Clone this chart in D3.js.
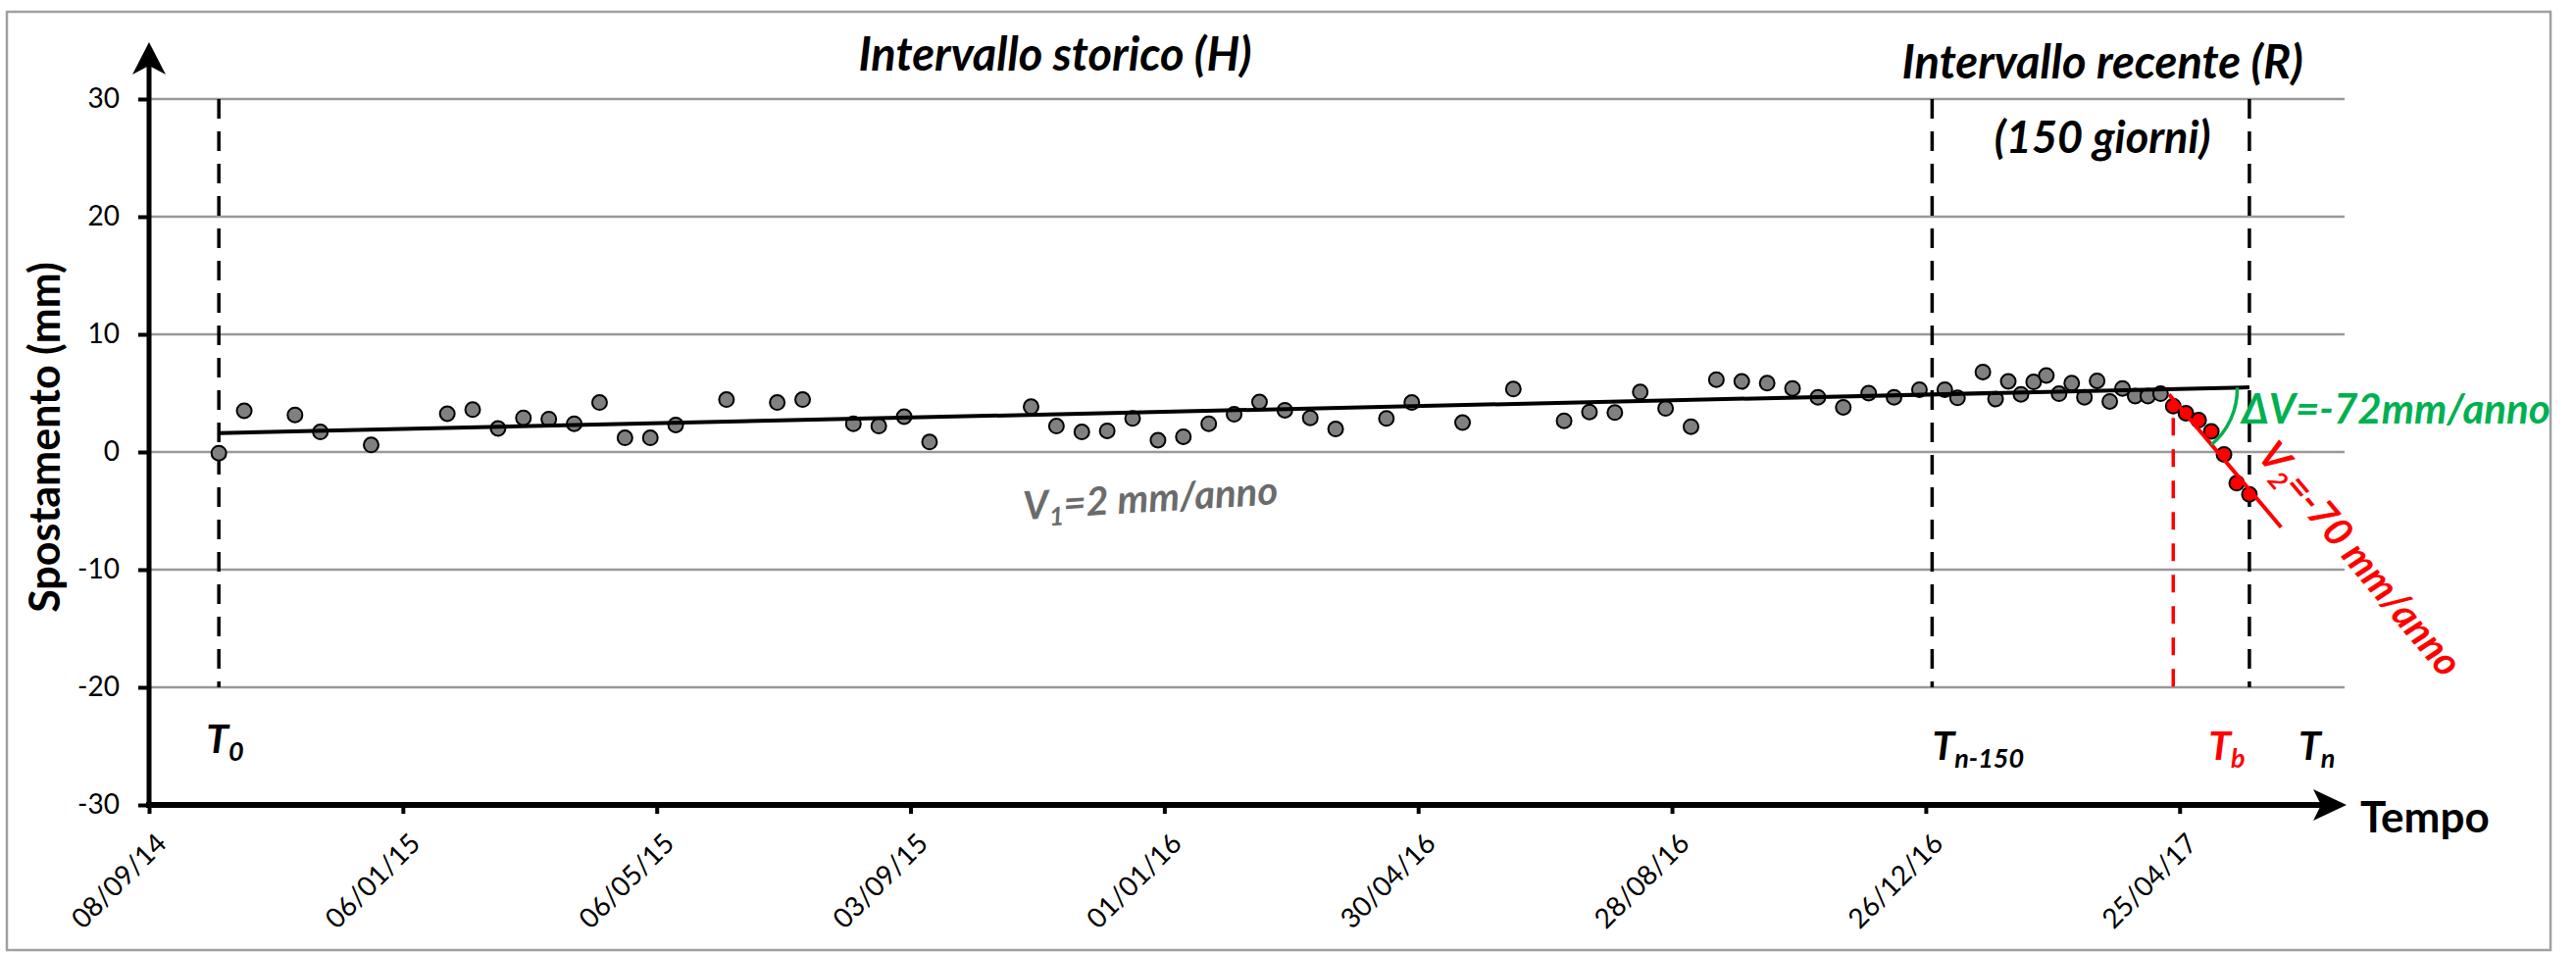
<!DOCTYPE html>
<html>
<head>
<meta charset="utf-8">
<script src="https://cdn.jsdelivr.net/npm/d3@7"></script>
<style>
  body { margin: 0; background: #fff; }
  text { font-family: Lato, "Open Sans", sans-serif; }
</style>
</head>
<body>
<div id="plot"></div>
<script>
var width = 2627;
var height = 972;

// axis ticks
var tickLabels = ["08/09/14", "06/01/15", "06/05/15", "03/09/15", "01/01/16", "30/04/16", "28/08/16", "26/12/16", "25/04/17"];
var yTicks = [-30, -20, -10, 0, 10, 20, 30];
var xEnd = "12/07/17";

// grey points (historical + recent before the break)
var histDates = ["11/10/14","23/10/14","16/11/14","28/11/14","22/12/14","27/01/15","08/02/15","20/02/15","04/03/15","16/03/15",
  "28/03/15","09/04/15","21/04/15","03/05/15","15/05/15","08/06/15","02/07/15","14/07/15","07/08/15","19/08/15",
  "31/08/15","12/09/15","30/10/15","11/11/15","23/11/15","05/12/15","17/12/15","29/12/15","10/01/16","22/01/16",
  "03/02/16","15/02/16","27/02/16","10/03/16","22/03/16","15/04/16","27/04/16","21/05/16","14/06/16","08/07/16",
  "20/07/16","01/08/16","13/08/16","25/08/16","06/09/16","18/09/16","30/09/16","12/10/16","24/10/16","05/11/16",
  "17/11/16","29/11/16","11/12/16","23/12/16","04/01/17","10/01/17","22/01/17","28/01/17","03/02/17","09/02/17",
  "15/02/17","21/02/17","27/02/17","05/03/17","11/03/17","17/03/17","23/03/17","29/03/17","04/04/17","10/04/17",
  "16/04/17"];
var histValues = [-0.1, 3.5, 3.15, 1.7, 0.6, 3.25, 3.6, 2.0, 2.9, 2.8,
  2.4, 4.2, 1.2, 1.2, 2.3, 4.45, 4.2, 4.45, 2.4, 2.2,
  3.0, 0.85, 3.85, 2.2, 1.7, 1.8, 2.85, 1.0, 1.3, 2.4,
  3.2, 4.25, 3.55, 2.9, 1.95, 2.85, 4.2, 2.5, 5.35, 2.65,
  3.4, 3.35, 5.1, 3.7, 2.15, 6.15, 6.0, 5.85, 5.4, 4.65,
  3.8, 5.0, 4.65, 5.3, 5.3, 4.6, 6.8, 4.5, 6.0, 4.9,
  5.95, 6.5, 4.95, 5.85, 4.65, 6.05, 4.3, 5.4, 4.75, 4.75,
  4.95];

// red points (after the break)
var breakDates = ["22/04/17","28/04/17","04/05/17","10/05/17","16/05/17","22/05/17","28/05/17"];
var breakValues = [3.9, 3.3, 2.7, 1.75, -0.2, -2.65, -3.6];

// trend lines
var v1Dates = ["11/10/14", "28/05/17"];
var v1Values = [1.6, 5.5];
var v2Dates = ["20/04/17", "12/06/17"];
var v2Values = [4.9, -6.4];

// reference times
var t0Date = "11/10/14";
var tn150Date = "29/12/16";
var tbDate = "22/04/17";
var tnDate = "28/05/17";

var parse = d3.timeParse("%d/%m/%y");
var fmt = d3.timeFormat("%d/%m/%y");

var x = d3.scaleTime()
  .domain([parse(tickLabels[0]), parse(xEnd)])
  .range([152, 2391]);
var y = d3.scaleLinear()
  .domain([-30, 30])
  .range([821, 101]);

var svg = d3.select("div#plot")
  .append("svg")
  .attr("width", width)
  .attr("height", height);

// outer frame
svg.append("rect")
  .attr("x", 7).attr("y", 12)
  .attr("width", 2594).attr("height", 957)
  .style("fill", "none")
  .style("stroke", "#a0a0a0")
  .style("stroke-width", 2.5);

var x0 = x.range()[0], x1 = x.range()[1];

// gridlines
svg.append("g")
  .selectAll("line")
  .data(yTicks.filter(function(d){ return d > -30; }))
  .enter()
  .append("line")
  .attr("x1", x0).attr("x2", x1)
  .attr("y1", function(d){ return y(d); })
  .attr("y2", function(d){ return y(d); })
  .style("stroke", "#999")
  .style("stroke-width", 2.5);

// y axis
var yAxis = d3.axisLeft(y)
  .tickValues(yTicks)
  .tickFormat(function(d){ return String(d); })
  .tickSize(11).tickPadding(19);
var gy = svg.append("g")
  .attr("transform", "translate(" + x0 + ",0)")
  .call(yAxis);
gy.select(".domain").remove();
gy.selectAll(".tick line").style("stroke", "#000").style("stroke-width", 4);
gy.selectAll(".tick text")
  .style("font-size", "28px")
  .style("fill", "#000");

// x axis
var xAxis = d3.axisBottom(x)
  .tickValues(tickLabels.map(parse))
  .tickFormat(fmt)
  .tickSize(9);
var gx = svg.append("g")
  .attr("transform", "translate(0," + y(-30) + ")")
  .call(xAxis);
gx.select(".domain").remove();
gx.selectAll(".tick line").style("stroke", "#000").style("stroke-width", 4);
gx.selectAll(".tick text")
  .attr("x", 0).attr("y", 0).attr("dy", "0.35em")
  .attr("text-anchor", "end")
  .attr("transform", "translate(12,34) rotate(-45)")
  .style("font-size", "28px")
  .style("fill", "#000");

// axis lines with arrow heads
var yTop = y.range()[1] - 58;
svg.append("line")
  .attr("x1", x0).attr("x2", x0)
  .attr("y1", y(-30) + 3).attr("y2", yTop + 20)
  .style("stroke", "#000").style("stroke-width", 5);
svg.append("path")
  .attr("d", "M" + x0 + "," + yTop + " L" + (x0 - 17) + "," + (yTop + 33) +
    " L" + x0 + "," + (yTop + 24) + " L" + (x0 + 17) + "," + (yTop + 33) + "Z")
  .style("fill", "#000");

var yb = y(-30);
svg.append("line")
  .attr("x1", x0 - 3).attr("x2", x1 - 20)
  .attr("y1", yb).attr("y2", yb)
  .style("stroke", "#000").style("stroke-width", 6);
svg.append("path")
  .attr("d", "M" + (x1 + 2) + "," + yb + " L" + (x1 - 32) + "," + (yb - 16) +
    " L" + (x1 - 24) + "," + yb + " L" + (x1 - 32) + "," + (yb + 16) + "Z")
  .style("fill", "#000");

svg.append("text")
  .attr("x", x1 + 16).attr("y", yb + 28)
  .style("font-size", "44px").style("font-weight", "bold")
  .text("Tempo");

svg.append("text")
  .attr("transform", "translate(46,446) rotate(-90)")
  .attr("text-anchor", "middle")
  .attr("dy", "0.35em")
  .style("font-size", "43px").style("font-weight", "bold")
  .text("Spostamento (mm)");

// dashed reference lines
var blackRefs = [t0Date, tn150Date, tnDate];
svg.append("g")
  .selectAll("line")
  .data(blackRefs)
  .enter()
  .append("line")
  .attr("x1", function(d){ return x(parse(d)); })
  .attr("x2", function(d){ return x(parse(d)); })
  .attr("y1", y(30)).attr("y2", y(-20))
  .style("stroke", "#000")
  .style("stroke-width", 3.5)
  .style("stroke-dasharray", "20,13");

svg.append("line")
  .attr("x1", x(parse(tbDate))).attr("x2", x(parse(tbDate)))
  .attr("y1", y(breakValues[0]) + 12).attr("y2", y(-20))
  .style("stroke", "#ff0000")
  .style("stroke-width", 3.5)
  .style("stroke-dasharray", "18,14");

// points
svg.append("g")
  .selectAll("circle")
  .data(histDates.map(function(d, i){ return {date: parse(d), value: histValues[i]}; }))
  .enter()
  .append("circle")
  .attr("cx", function(d){ return x(d.date); })
  .attr("cy", function(d){ return y(d.value); })
  .attr("r", 7.5)
  .style("fill", "#808080")
  .style("stroke", "#000")
  .style("stroke-width", 2);

svg.append("g")
  .selectAll("circle")
  .data(breakDates.map(function(d, i){ return {date: parse(d), value: breakValues[i]}; }))
  .enter()
  .append("circle")
  .attr("cx", function(d){ return x(d.date); })
  .attr("cy", function(d){ return y(d.value); })
  .attr("r", 7.5)
  .style("fill", "#ff0000")
  .style("stroke", "#000")
  .style("stroke-width", 2);

// trend lines
var line = d3.line()
  .x(function(d){ return x(d.date); })
  .y(function(d){ return y(d.value); });

var v1 = v1Dates.map(function(d, i){ return {date: parse(d), value: v1Values[i]}; });
var v2 = v2Dates.map(function(d, i){ return {date: parse(d), value: v2Values[i]}; });

svg.append("path")
  .datum(v1)
  .attr("d", line)
  .style("fill", "none").style("stroke", "#000").style("stroke-width", 4);

svg.append("path")
  .datum(v2)
  .attr("d", line)
  .style("fill", "none").style("stroke", "#ff0000").style("stroke-width", 4);

// angle arc between the two trends
var ax1 = x(v1[0].date), ay1 = y(v1[0].value), ax2 = x(v1[1].date), ay2 = y(v1[1].value);
var bx1 = x(v2[0].date), by1 = y(v2[0].value), bx2 = x(v2[1].date), by2 = y(v2[1].value);
var sa = (ay2 - ay1) / (ax2 - ax1), sb = (by2 - by1) / (bx2 - bx1);
var cx = (by1 - ay1 + sa * ax1 - sb * bx1) / (sa - sb);
var cy = ay1 + sa * (cx - ax1);
var rArc = 74;
var angA = Math.atan(sa), angB = Math.atan(sb);
svg.append("path")
  .attr("d", "M" + (cx + rArc * Math.cos(angA)) + "," + (cy + rArc * Math.sin(angA)) +
    " A" + rArc + "," + rArc + " 0 0 1 " + (cx + rArc * Math.cos(angB)) + "," + (cy + rArc * Math.sin(angB)))
  .style("fill", "none").style("stroke", "#00b050").style("stroke-width", 3.5);

// titles
svg.append("text")
  .attr("x", 1076).attr("y", 72)
  .attr("text-anchor", "middle")
  .style("font-size", "47px").style("font-weight", "bold").style("font-style", "italic")
  .text("Intervallo storico (H)");

var recentMid = (x(parse(tn150Date)) + x(parse(tnDate))) / 2 + 12;
svg.append("text")
  .attr("x", recentMid).attr("y", 80)
  .attr("text-anchor", "middle")
  .style("font-size", "47px").style("font-weight", "bold").style("font-style", "italic")
  .text("Intervallo recente (R)");
svg.append("text")
  .attr("x", recentMid).attr("y", 156)
  .attr("text-anchor", "middle")
  .style("font-size", "45px").style("font-weight", "bold").style("font-style", "italic")
  .text("(150 giorni)");

// T labels
function tLabel(px, py, sub, color) {
  var t = svg.append("text")
    .attr("x", px).attr("y", py)
    .style("font-size", "41px").style("font-weight", "bold").style("font-style", "italic")
    .style("fill", color);
  t.append("tspan").text("T");
  t.append("tspan").attr("dy", 8).style("font-size", "27px").text(sub);
}
tLabel(x(parse(t0Date)) - 13, 768, "0", "#000");
tLabel(x(parse(tn150Date)), 775, "n-150", "#000");
tLabel(x(parse(tbDate)) + 36, 775, "b", "#ff0000");
tLabel(x(parse(tnDate)) + 50, 775, "n", "#000");

// velocity labels
var t1 = svg.append("text")
  .attr("transform", "translate(1174,522) rotate(-3.5)")
  .attr("text-anchor", "middle")
  .style("font-size", "40px").style("font-weight", "bold").style("font-style", "italic")
  .style("fill", "#6b6b6b");
t1.append("tspan").text("V");
t1.append("tspan").attr("dy", 8).style("font-size", "26px").text("1");
t1.append("tspan").attr("dy", -8).text("=2 mm/anno");

svg.append("text")
  .attr("x", x(parse(tnDate)) - 8).attr("y", 432)
  .style("font-size", "42px").style("font-weight", "bold").style("font-style", "italic")
  .style("fill", "#00b050")
  .text("ΔV=-72mm/anno");

var t2 = svg.append("text")
  .attr("transform", "translate(2407,570) rotate(50)")
  .attr("text-anchor", "middle")
  .attr("dy", "0.35em")
  .style("font-size", "40px").style("font-weight", "bold").style("font-style", "italic")
  .style("fill", "#ff0000");
t2.append("tspan").text("V");
t2.append("tspan").attr("dy", 8).style("font-size", "26px").text("2");
t2.append("tspan").attr("dy", -8).text("=-70 mm/anno");
</script>
</body>
</html>
